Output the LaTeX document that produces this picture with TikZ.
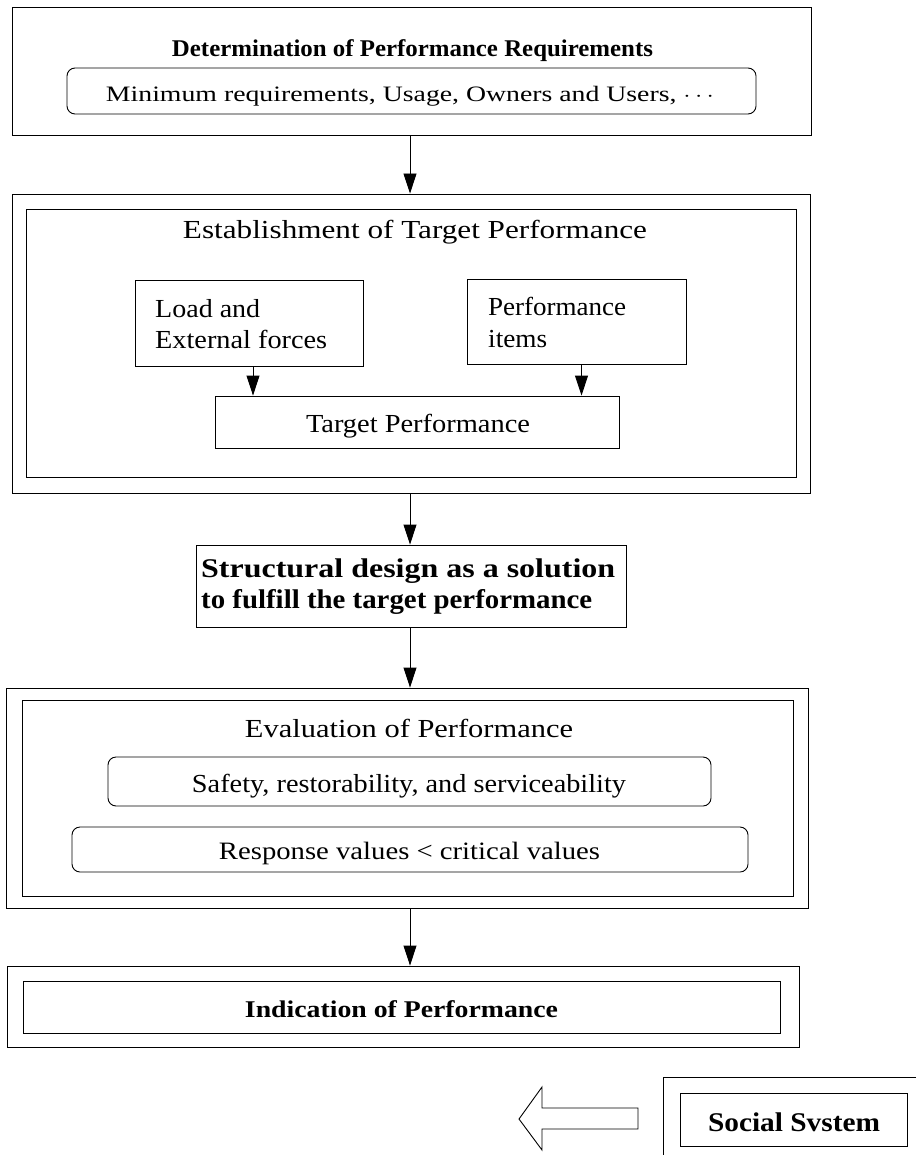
\documentclass[tikz,border=0pt]{standalone}
\usepackage{fontspec}
\setmainfont{Liberation Serif}
\usetikzlibrary{arrows.meta}
\newcommand{\fw}[2]{\resizebox{#1pt}{\height}{#2}}
\begin{document}
\begin{tikzpicture}[x=1pt,y=-1pt,
  box/.style={draw,line width=0.9pt,inner sep=0pt},
  rbox/.style={box,rounded corners=8pt},
  txt/.style={inner sep=0pt,anchor=base},
  ltxt/.style={inner sep=0pt,anchor=base west},
  arr/.style={line width=0.9pt,-{Triangle[length=20pt,width=13pt]}}]
\useasboundingbox (0,0) rectangle (916,1155);
\coordinate (ax) at (410,0);
% Box 1
\node[box,minimum width=799pt,minimum height=128pt] (b1) at (411.5,71) {};
\node[txt,font=\fontsize{24}{28}\selectfont\bfseries] (t1) at (412.5,57) {\fw{481}{Determination of Performance Requirements}};
\node[rbox,minimum width=689pt,minimum height=46pt] (r1) at (411.5,91) {};
\node[txt,font=\fontsize{22}{26}\selectfont] (r1t) at (410,102) {\fw{608}{Minimum requirements, Usage, Owners and Users, $\cdots$}};
% Box 2
\node[box,minimum width=798pt,minimum height=299pt] (b2o) at (411,343.5) {};
\node[box,minimum width=770pt,minimum height=268pt] (b2i) at (411,343) {};
\node[txt,font=\fontsize{26}{30}\selectfont] (t2) at (415,239) {\fw{464}{Establishment of Target Performance}};
\node[box,minimum width=228pt,minimum height=86pt] (lb) at (249,323) {};
\node[ltxt,font=\fontsize{26}{30}\selectfont] (lt1) at (155,317) {\fw{105}{Load and}};
\node[ltxt,font=\fontsize{26}{30}\selectfont] (lt2) at (155,348) {\fw{172}{External forces}};
\node[box,minimum width=219pt,minimum height=85pt] (rb) at (576.5,321.5) {};
\node[ltxt,font=\fontsize{26}{30}\selectfont] (rt1) at (488,316) {\fw{138}{Performance}};
\node[ltxt,font=\fontsize{26}{30}\selectfont] (rt2) at (488,347) {\fw{59}{items}};
\node[box,minimum width=404pt,minimum height=52pt] (tb) at (417,422) {};
\node[txt,font=\fontsize{26}{30}\selectfont] (tbt) at (418,432) {\fw{224}{Target Performance}};
% Structural design
\node[box,minimum width=430pt,minimum height=82pt] (sb) at (411,586) {};
\node[ltxt,font=\fontsize{27}{31}\selectfont\bfseries] (st1) at (201,577) {\fw{414}{Structural design as a solution}};
\node[ltxt,font=\fontsize{27}{31}\selectfont\bfseries] (st2) at (201,608) {\fw{391}{to fulfill the target performance}};
% Evaluation
\node[box,minimum width=802pt,minimum height=220pt] (eo) at (407,798) {};
\node[box,minimum width=771pt,minimum height=196pt] (ei) at (407.5,798) {};
\node[txt,font=\fontsize{26}{30}\selectfont] (et) at (409,737) {\fw{328}{Evaluation of Performance}};
\node[rbox,minimum width=603pt,minimum height=49pt] (r2) at (409.5,781.5) {};
\node[txt,font=\fontsize{26}{30}\selectfont] (r2t) at (409,792) {\fw{434}{Safety, restorability, and serviceability}};
\node[rbox,minimum width=676pt,minimum height=45pt] (r3) at (410,849.5) {};
\node[txt,font=\fontsize{25}{29}\selectfont] (r3t) at (409.5,859) {\fw{381}{Response values < critical values}};
% Indication
\node[box,minimum width=792pt,minimum height=81pt] (io) at (403,1006.5) {};
\node[box,minimum width=757pt,minimum height=52pt] (ii) at (401.5,1007) {};
\node[txt,font=\fontsize{24}{28}\selectfont\bfseries] (it) at (401.5,1017) {\fw{313}{Indication of Performance}};
% Social system
\coordinate (so1) at (916,1077);
\coordinate (so2) at (663,1077);
\coordinate (so3) at (663,1155);
\draw[line width=0.9pt] (so1) -- (so2) -- (so3);
\node[box,minimum width=227pt,minimum height=53pt] (ss) at (793.5,1119.5) {};
\node[txt,font=\fontsize{27}{31}\selectfont\bfseries] (sst) at (794,1131) {\fw{172}{Social Svstem}};
% hollow arrow
\draw[line width=0.9pt] (638,1108) -- (542,1108) -- (542,1087) -- (519,1119) -- (542,1150) -- (542,1129) -- (638,1129) -- cycle;
% connectors
\draw[arr] (b1.south -| ax) -- (b2o.north -| ax);
\draw[arr] ([xshift=4pt]lb.south) -- ([xshift=4pt]lb.south |- tb.north);
\draw[arr] ([xshift=5pt]rb.south) -- ([xshift=5pt]rb.south |- tb.north);
\draw[arr] (b2o.south -| ax) -- (sb.north -| ax);
\draw[arr] (sb.south -| ax) -- (eo.north -| ax);
\draw[arr] (eo.south -| ax) -- (io.north -| ax);
\end{tikzpicture}
\end{document}
